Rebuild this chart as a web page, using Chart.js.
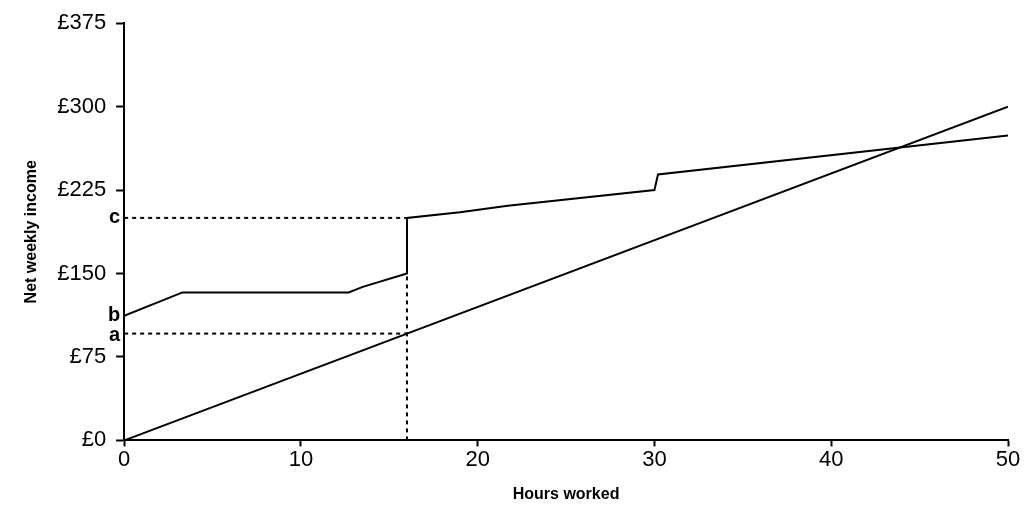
<!DOCTYPE html>
<html><head><meta charset="utf-8">
<script src="https://cdn.jsdelivr.net/npm/chart.js@4"></script>
<style>body{margin:0;background:#fff}#w{width:1028px;height:524px}</style>
</head><body><div id="w"><canvas id="c"></canvas></div>
<script>
const grossHours = [0, 50];
const grossIncome = [0, 300];
const netHours = [0, 3.3, 12.7, 13.5, 16, 16, 19, 21.7, 30, 30.2, 50];
const netIncome = [112, 133, 133, 138, 150, 200, 205, 211, 225, 239, 274];
const refA = 96, refC = 200, refHours = 16;
const markLabels = [{t:'c', y:200}, {t:'b', y:112}, {t:'a', y:94}];
const yTicks = [0, 75, 150, 225, 300, 375];

const pts = (xs, ys) => xs.map((x, i) => ({x, y: ys[i]}));
const dash = {borderColor:'#000', borderWidth:2, borderDash:[4,4], pointRadius:0, showLine:true, fill:false};
const labelPlugin = {
  id:'lab',
  afterDraw(ch){
    const c = ch.ctx, ys = ch.scales.y, xs = ch.scales.x;
    c.save(); c.font='bold 20px "Liberation Sans", Arial'; c.fillStyle='#000';
    c.textAlign='right'; c.textBaseline='middle';
    markLabels.forEach(m => c.fillText(m.t, xs.getPixelForValue(0) - 4, ys.getPixelForValue(m.y)));
    c.restore();
  }
};
new Chart(document.getElementById('c'), {
  type:'scatter',
  data:{datasets:[
    {data:pts(grossHours, grossIncome), borderColor:'#000', borderWidth:2, pointRadius:0, showLine:true},
    {data:pts(netHours, netIncome), borderColor:'#000', borderWidth:2, pointRadius:0, showLine:true},
    Object.assign({data:[{x:0,y:refC},{x:refHours,y:refC}]}, dash),
    Object.assign({data:[{x:0,y:refA},{x:refHours,y:refA}]}, dash),
    Object.assign({data:[{x:refHours,y:0},{x:refHours,y:refC}]}, dash)
  ]},
  options:{
    responsive:true, maintainAspectRatio:false, animation:false,
    layout:{padding:{left:18, right:20, top:23, bottom:20}},
    plugins:{legend:{display:false}, tooltip:{enabled:false}},
    scales:{
      x:{type:'linear', min:0, max:50,
        grid:{display:true, drawOnChartArea:false, drawTicks:true, tickLength:6, tickColor:'#000', tickWidth:2},
        border:{color:'#000', width:2},
        ticks:{stepSize:10, color:'#000', padding:0, font:{size:22, family:'"Liberation Sans", Arial'}},
        title:{display:true, text:'Hours worked', color:'#000', font:{size:16, weight:'bold', family:'"Liberation Sans", Arial'}, padding:{top:12, bottom:0}}},
      y:{min:0, max:375,
        afterBuildTicks(ax){ ax.ticks = yTicks.map(v => ({value:v})); },
        grid:{display:true, drawOnChartArea:false, tickLength:8, tickColor:'#000', tickWidth:2},
        border:{color:'#000', width:2},
        ticks:{color:'#000', padding:10, font:{size:22, family:'"Liberation Sans", Arial'}, callback:v => '£' + v},
        title:{display:true, text:'Net weekly income', color:'#000', font:{size:16, weight:'bold', family:'"Liberation Sans", Arial'}, padding:{top:4, bottom:6}}}
    }
  },
  plugins:[labelPlugin]
});
</script></body></html>
